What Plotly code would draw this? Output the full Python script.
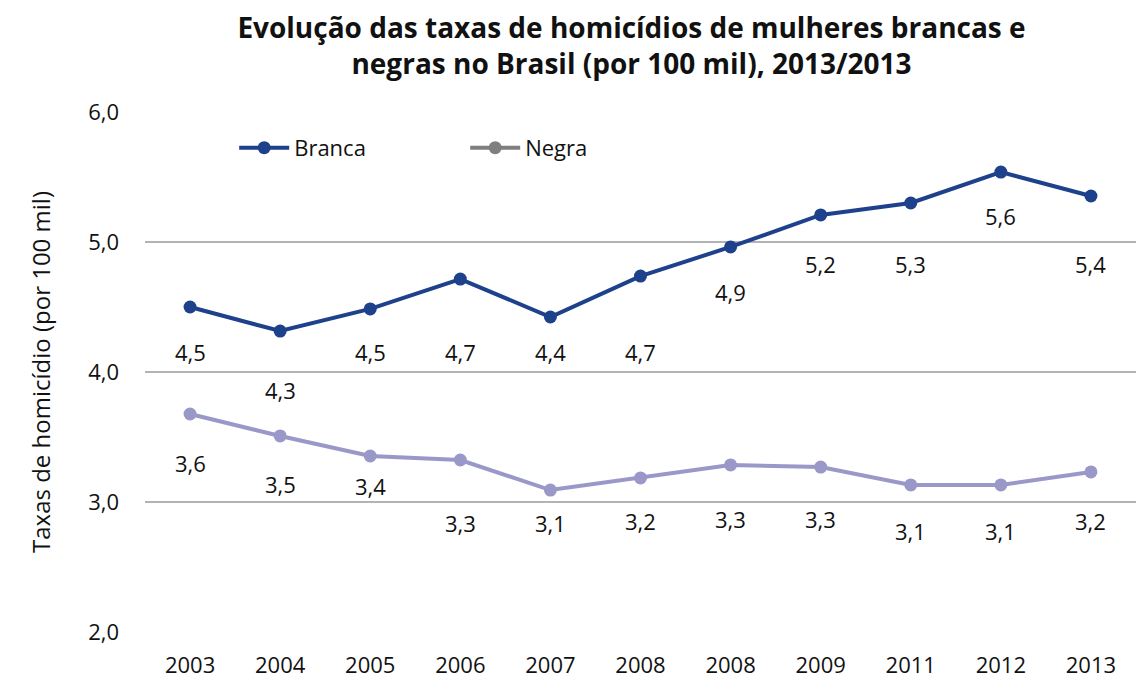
import plotly.graph_objects as go

anos = ["2003", "2004", "2005", "2006", "2007", "2008", "2008", "2009", "2011", "2012", "2013"]
branca = [4.50, 4.315, 4.485, 4.715, 4.423, 4.738, 4.962, 5.208, 5.30, 5.538, 5.354]
negra = [3.677, 3.508, 3.354, 3.323, 3.092, 3.185, 3.285, 3.269, 3.131, 3.131, 3.231]
rotulos_branca = ["4,5", "4,3", "4,5", "4,7", "4,4", "4,7", "4,9", "5,2", "5,3", "5,6", "5,4"]
rotulos_negra = ["3,6", "3,5", "3,4", "3,3", "3,1", "3,2", "3,3", "3,3", "3,1", "3,1", "3,2"]
y_ticks = [2.0, 3.0, 4.0, 5.0, 6.0]
y_ticktext = ["2,0", "3,0", "4,0", "5,0", "6,0"]

# label offsets below points (pixels), style only
off_branca = [45, 59, 43, 73, 35, 76, 45, 49, 61, 44, 68]
off_negra = [49, 48, 30, 63, 33, 43, 54, 52, 46, 46, 49]

C_BRANCA = "#1e418b"
C_NEGRA = "#9a98c8"
FONT = "Open Sans"
FS = 22

xs = list(range(len(anos)))
fig = go.Figure()
fig.add_trace(go.Scatter(x=xs, y=branca, mode="lines+markers", showlegend=False,
                         line=dict(color=C_BRANCA, width=4), marker=dict(size=13, color=C_BRANCA)))
fig.add_trace(go.Scatter(x=xs, y=negra, mode="lines+markers", showlegend=False,
                         line=dict(color=C_NEGRA, width=4), marker=dict(size=13, color=C_NEGRA)))
# legend entries
fig.add_trace(go.Scatter(x=[None], y=[None], mode="lines+markers", name="Branca",
                         line=dict(color=C_BRANCA, width=4), marker=dict(size=13, color=C_BRANCA)))
fig.add_trace(go.Scatter(x=[None], y=[None], mode="lines+markers", name="Negra",
                         line=dict(color="#7f7f7f", width=4), marker=dict(size=13, color="#7f7f7f")))

for i in xs:
    fig.add_annotation(x=i, y=branca[i], text=rotulos_branca[i], showarrow=False,
                       yshift=-off_branca[i], font=dict(size=FS, color="#111", family=FONT))
    fig.add_annotation(x=i, y=negra[i], text=rotulos_negra[i], showarrow=False,
                       yshift=-off_negra[i], font=dict(size=FS, color="#111", family=FONT))

fig.update_layout(
    width=1144, height=686,
    paper_bgcolor="white", plot_bgcolor="white",
    margin=dict(l=137, r=16, t=104, b=62),
    title=dict(text="<b>Evolução das taxas de homicídios de mulheres brancas e<br>negras no Brasil (por 100 mil), 2013/2013</b>",
               x=0.545, xanchor="center", yref="container", y=0.957, yanchor="middle",
               font=dict(family=FONT, size=28, color="#111")),
    font=dict(family=FONT, size=FS, color="#111"),
    legend=dict(orientation="h", x=0.09, y=0.931, xanchor="left", yanchor="middle",
                bgcolor="rgba(0,0,0,0)", font=dict(size=FS, family=FONT),
                itemwidth=50, entrywidth=166, tracegroupgap=0),
)
fig.update_xaxes(range=[-0.5, len(anos) - 0.5], tickvals=xs, ticktext=anos, showgrid=False,
                 zeroline=False, showline=False, ticks="", ticklabelstandoff=18,
                 tickfont=dict(size=FS, family=FONT))
fig.update_yaxes(range=[2, 6], tickvals=y_ticks, ticktext=y_ticktext, showgrid=True,
                 gridcolor="#b3b3b3", gridwidth=2, zeroline=False, showline=False,
                 ticks="", ticklabelstandoff=25, tickfont=dict(size=FS, family=FONT),
                 title=dict(text="Taxas de homicídio (por 100 mil)", font=dict(size=24, family=FONT), standoff=30))

fig.write_html("out.html")
